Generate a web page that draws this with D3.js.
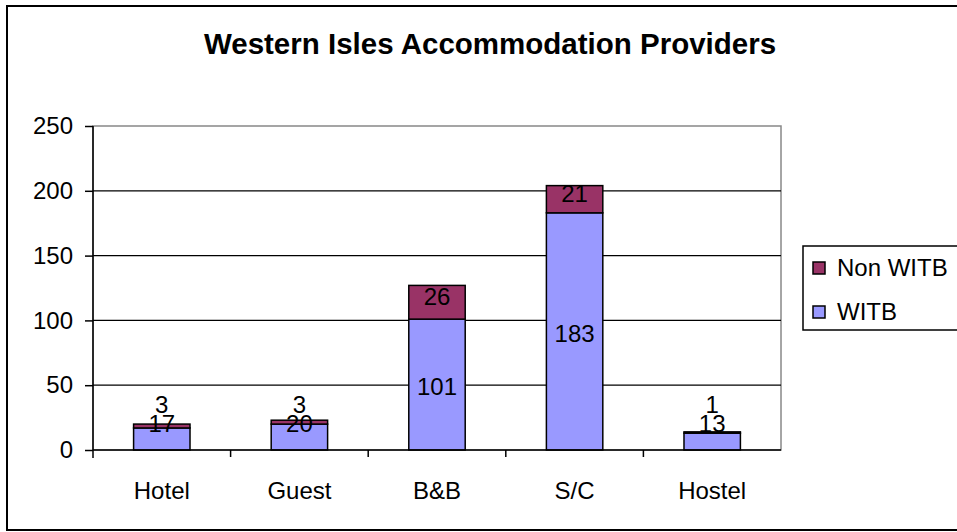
<!DOCTYPE html>
<html>
<head>
<meta charset="utf-8">
<script src="https://d3js.org/d3.v7.min.js"></script>
<style>
  body { margin: 0; background: #fff; }
  svg text { font-family: Arial, 'Liberation Sans', sans-serif; fill: #000; }
  .axis path, .axis line { stroke: #000; stroke-width: 1.5; }
</style>
</head>
<body>
<div id="chart"></div>
<script>
// data
var categories = ["Hotel", "Guest", "B&B", "S/C", "Hostel"];
var witb = [17, 20, 101, 183, 13];
var nonWitb = [3, 3, 26, 21, 1];
var yTicks = [0, 50, 100, 150, 200, 250];
var seriesNames = ["WITB", "Non WITB"];
var seriesColors = ["#9999ff", "#993366"];

var W = 957, H = 532;
var margin = { top: 126, right: 176, bottom: 82, left: 93 };
var plotW = W - margin.left - margin.right;
var plotH = H - margin.top - margin.bottom;

var svg = d3.select("#chart").append("svg")
  .attr("width", W).attr("height", H);

// outer frame
svg.append("rect")
  .attr("x", 7).attr("y", 6).attr("width", W).attr("height", 524)
  .attr("fill", "#fff").attr("stroke", "#000").attr("stroke-width", 2);

svg.append("text")
  .attr("x", 490).attr("y", 54)
  .attr("text-anchor", "middle")
  .style("font-size", "29.5px").style("font-weight", "bold")
  .text("Western Isles Accommodation Providers");

var g = svg.append("g").attr("transform", "translate(" + margin.left + "," + margin.top + ")");

var x = d3.scaleBand().domain(categories).range([0, plotW]).padding(0);
var y = d3.scaleLinear().domain([0, 250]).range([plotH, 0]);

// plot border
g.append("rect")
  .attr("width", plotW).attr("height", plotH)
  .attr("fill", "none").attr("stroke", "#888").attr("stroke-width", 1.5);

// gridlines
g.selectAll(".grid").data(yTicks.filter(function(d) { return d > 0 && d < 250; }))
  .enter().append("line")
  .attr("x1", 0).attr("x2", plotW)
  .attr("y1", function(d) { return y(d); }).attr("y2", function(d) { return y(d); })
  .attr("stroke", "#000").attr("stroke-width", 1.2);

// stacked data
var rows = categories.map(function(c, i) { return { cat: c, WITB: witb[i], "Non WITB": nonWitb[i] }; });
var stack = d3.stack().keys(seriesNames)(rows);

var barW = x.bandwidth() * 0.41;
stack.forEach(function(layer, li) {
  g.selectAll(".bar" + li).data(layer).enter().append("rect")
    .attr("x", function(d) { return x(d.data.cat) + (x.bandwidth() - barW) / 2; })
    .attr("y", function(d) { return y(d[1]); })
    .attr("width", barW)
    .attr("height", function(d) { return y(d[0]) - y(d[1]); })
    .attr("fill", seriesColors[li])
    .attr("stroke", "#000").attr("stroke-width", 1.5);
});

// value labels: centred in segment, kept off the axis, pushed apart when they collide
categories.forEach(function(c, i) {
  var prev = null;
  stack.forEach(function(layer, li) {
    var d = layer[i];
    var ly = y((d[0] + d[1]) / 2) + (li === 0 ? 2 : -6);
    ly = Math.min(ly, y(0) - 26);
    if (prev !== null && ly > prev - 19) ly = prev - 19;
    prev = ly;
    g.append("text")
      .attr("x", x(c) + x.bandwidth() / 2)
      .attr("y", ly)
      .attr("dy", "0.35em")
      .attr("text-anchor", "middle")
      .style("font-size", "24px")
      .text(d[1] - d[0]);
  });
});

// axes
var yAxis = d3.axisLeft(y).tickValues(yTicks).tickSize(8).tickPadding(12);
g.append("g").attr("class", "axis").call(yAxis)
  .call(function(s) { s.selectAll("text").style("font-size", "24px"); s.select(".domain").attr("d", "M0," + (plotH + 8) + "V0"); });

var xAxis = g.append("g").attr("class", "axis").attr("transform", "translate(0," + plotH + ")");
xAxis.append("line").attr("x1", 0).attr("x2", plotW).attr("stroke", "#000").attr("stroke-width", 1.5);
xAxis.selectAll(".tk").data(categories.slice(1)).enter().append("line")
  .attr("x1", function(d) { return x(d); }).attr("x2", function(d) { return x(d); })
  .attr("y1", 0).attr("y2", 7);
xAxis.selectAll(".lbl").data(categories).enter().append("text")
  .attr("x", function(d) { return x(d) + x.bandwidth() / 2; })
  .attr("y", 49)
  .attr("text-anchor", "middle")
  .style("font-size", "24px")
  .text(function(d) { return d; });

// legend
var legend = svg.append("g").attr("transform", "translate(803,246)");
legend.append("rect").attr("width", 200).attr("height", 84)
  .attr("fill", "#fff").attr("stroke", "#000").attr("stroke-width", 1.5);
var legendItems = seriesNames.slice().reverse();
legendItems.forEach(function(name, i) {
  var row = legend.append("g").attr("transform", "translate(10," + (22 + i * 44) + ")");
  row.append("rect").attr("x", 0).attr("y", -6).attr("width", 12).attr("height", 12)
    .attr("fill", seriesColors[seriesNames.indexOf(name)])
    .attr("stroke", "#000").attr("stroke-width", 1.5);
  row.append("text").attr("x", 24).attr("dy", "0.35em")
    .style("font-size", "24px").text(name);
});
</script>
</body>
</html>
